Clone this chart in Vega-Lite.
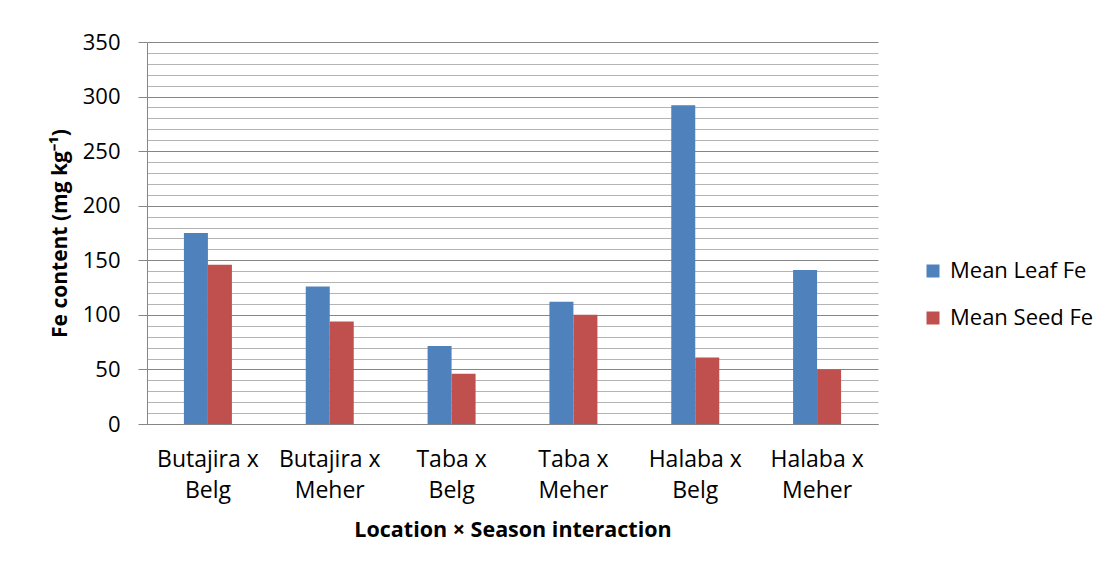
{
  "$schema": "https://vega.github.io/schema/vega-lite/v6.json",
  "autosize": {"type": "none"},
  "padding": {"left": 147, "top": 42, "right": 236, "bottom": 146},
  "width": 731,
  "height": 382,
  "background": "white",
  "config": {
    "font": "Open Sans",
    "view": {"stroke": null},
    "axis": {"labelColor": "#000000", "titleColor": "#000000"}
  },
  "data": {
    "values": [
      {"combo": "Butajira x Belg", "series": "Mean Leaf Fe", "fe": 175},
      {"combo": "Butajira x Belg", "series": "Mean Seed Fe", "fe": 146},
      {"combo": "Butajira x Meher", "series": "Mean Leaf Fe", "fe": 126},
      {"combo": "Butajira x Meher", "series": "Mean Seed Fe", "fe": 94},
      {"combo": "Taba x Belg", "series": "Mean Leaf Fe", "fe": 71.5},
      {"combo": "Taba x Belg", "series": "Mean Seed Fe", "fe": 46},
      {"combo": "Taba x Meher", "series": "Mean Leaf Fe", "fe": 112},
      {"combo": "Taba x Meher", "series": "Mean Seed Fe", "fe": 100},
      {"combo": "Halaba x Belg", "series": "Mean Leaf Fe", "fe": 292},
      {"combo": "Halaba x Belg", "series": "Mean Seed Fe", "fe": 61},
      {"combo": "Halaba x Meher", "series": "Mean Leaf Fe", "fe": 141},
      {"combo": "Halaba x Meher", "series": "Mean Seed Fe", "fe": 50}
    ]
  },
  "mark": {"type": "bar"},
  "encoding": {
    "x": {
      "field": "combo",
      "type": "nominal",
      "sort": null,
      "scale": {"paddingInner": 0.606, "paddingOuter": 0.303},
      "axis": {
        "title": "Location × Season interaction",
        "titleFont": "Open Sans",
        "titleFontSize": 21.5,
        "titleFontWeight": "bold",
        "titleBaseline": "top",
        "titleY": 95,
        "labelAngle": 0,
        "labelFontSize": 23,
        "labelLineHeight": 31,
        "labelPadding": 24,
        "labelExpr": "[slice(datum.label, 0, indexof(datum.label, ' x ') + 2), slice(datum.label, indexof(datum.label, ' x ') + 3)]",
        "ticks": false,
        "domainColor": "#868686",
        "domainWidth": 1,
        "grid": false
      }
    },
    "xOffset": {
      "field": "series",
      "type": "nominal",
      "scale": {"domain": ["Mean Leaf Fe", "Mean Seed Fe"], "paddingInner": 0, "paddingOuter": 0}
    },
    "y": {
      "field": "fe",
      "type": "quantitative",
      "scale": {"domain": [0, 350], "nice": false},
      "axis": {
        "title": "Fe content (mg kg⁻¹)",
        "titleFontSize": 21,
        "titleFontWeight": "bold",
        "titlePadding": 12,
        "values": [0, 10, 20, 30, 40, 50, 60, 70, 80, 90, 100, 110, 120, 130, 140, 150, 160, 170, 180, 190, 200, 210, 220, 230, 240, 250, 260, 270, 280, 290, 300, 310, 320, 330, 340, 350],
        "labelExpr": "datum.value % 50 === 0 ? datum.label : ''",
        "labelFontSize": 22,
        "labelPadding": 18,
        "tickSize": 9,
        "tickColor": "#868686",
        "tickOpacity": {"condition": {"test": "datum.value % 50 === 0", "value": 1}, "value": 0},
        "gridColor": {"condition": {"test": "datum.value % 50 === 0", "value": "#868686"}, "value": "#b4b4b4"},
        "gridWidth": 1,
        "domainColor": "#868686",
        "domainWidth": 1
      }
    },
    "color": {
      "field": "series",
      "type": "nominal",
      "scale": {"domain": ["Mean Leaf Fe", "Mean Seed Fe"], "range": ["#4F81BD", "#C0504D"]},
      "legend": {
        "title": null,
        "orient": "none",
        "legendX": 775,
        "legendY": 218,
        "symbolType": "square",
        "symbolSize": 169,
        "symbolStrokeWidth": 0,
        "labelFontSize": 22,
        "labelColor": "#000000",
        "labelOffset": 6,
        "rowPadding": 25
      }
    }
  }
}
